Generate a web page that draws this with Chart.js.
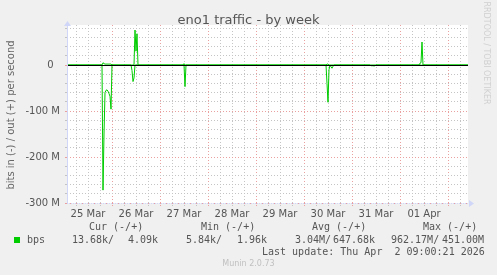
<!DOCTYPE html>
<html>
<head>
<meta charset="utf-8">
<script src="https://cdn.jsdelivr.net/npm/chart.js@4"></script>
<style>
  body { margin: 0; background: #f0f0f0; }
  #wrap { position: relative; width: 497px; height: 275px; overflow: hidden; font-family: "DejaVu Sans"; color: #666; }
  canvas { position: absolute; left: 0; top: 0; }
  .t { position: absolute; white-space: pre; }
  .mono { font: 10px/12px "DejaVu Sans Mono"; color: #555; }
</style>
</head>
<body>
<div id="wrap">
  <canvas id="chart" width="497" height="275"></canvas>
  <div class="t" style="left:0;width:497px;text-align:center;top:12px;font-size:13px;line-height:16px;color:#555">eno1 traffic - by week</div>

  <div class="t mono" style="left:89px;top:221px">Cur (-/+)</div>
  <div class="t mono" style="left:201px;top:221px">Min (-/+)</div>
  <div class="t mono" style="left:312px;top:221px">Avg (-/+)</div>
  <div class="t mono" style="left:423px;top:221px">Max (-/+)</div>

  <div style="position:absolute;left:14px;top:237px;width:6px;height:6px;background:#00cc00"></div>
  <div class="t mono" style="left:27px;top:234px">bps</div>
  <div class="t mono" style="left:72px;top:234px">13.68k/</div>
  <div class="t mono" style="left:128px;top:234px">4.09k</div>
  <div class="t mono" style="left:186px;top:234px">5.84k/</div>
  <div class="t mono" style="left:237px;top:234px">1.96k</div>
  <div class="t mono" style="left:295px;top:234px">3.04M/</div>
  <div class="t mono" style="left:333px;top:234px">647.68k</div>
  <div class="t mono" style="left:391px;top:234px">962.17M/</div>
  <div class="t mono" style="left:442px;top:234px">451.00M</div>

  <div class="t mono" style="left:262px;top:246px">Last update: Thu Apr  2 09:00:21 2026</div>
  <div class="t" style="left:0;width:497px;text-align:center;top:259px;font-size:8px;line-height:10px;color:#c0c0c0">Munin 2.0.73</div>
</div>
<script>
// hours counted from 25 Mar 00:00, values in Mbit/s (in is drawn below zero)
const dayLabels = ['25 Mar', '26 Mar', '27 Mar', '28 Mar', '29 Mar', '30 Mar', '31 Mar', '01 Apr'];
const yTickValues = [0, -100, -200, -300];
const yTickLabels = ['0\u2007', '-100 M', '-200 M', '-300 M'];

const inHours = [1.5, 19, 19.5, 20, 20.5, 21, 21.5, 22, 22.5, 23, 23.5, 24,
  33.5, 34, 34.5, 35, 35.5,
  60, 60.5, 61,
  131, 131.5, 132, 132.5, 133, 133.5, 134, 134.5, 135,
  153, 153.5, 154, 154.5, 155, 155.5, 156,
  178.5, 179, 179.5, 202];
const inMbps = [0, 0, -272, -150, -60, -55, -54, -57, -62, -68, -96, 0,
  0, -12, -36, -28, 0,
  0, -47, 0,
  0, -40, -81, -10, 0, -4, -7, -3, 0,
  0, -2, -1, -2, -1.5, -2, 0,
  0, -1, 0, 0];

const outHours = [1.5, 19, 19.5, 20, 20.5, 21, 21.5, 22, 22.5, 23, 23.5, 24,
  35, 35.5, 36, 36.5, 37,
  59.5, 60, 60.5,
  131, 131.5, 132, 132.5,
  177.5, 178, 178.5, 179, 179.5, 202];
const outMbps = [0, 0, 5, 3, 2, 2, 2, 2, 2, 2, 2, 0,
  0, 76, 30, 68, 0,
  0, 3, 0,
  0, 2, 2, 0,
  0, 4, 5, 50, 0, 0];

const GREEN = '#00cc00', GRID = '#c4c4c4', MGRID = '#eba0a0', AXIS = '#cfd6f8';

const muninDecor = {
  id: 'muninDecor',
  beforeDraw(chart) {
    const { ctx, chartArea: a } = chart;
    ctx.save();
    ctx.fillStyle = '#fff';
    ctx.fillRect(a.left, a.top, a.right - a.left, a.bottom - a.top);
    ctx.restore();
  },
  afterDatasetsDraw(chart) {
    const { ctx, chartArea: a, scales } = chart;
    const y0 = Math.round(scales.y.getPixelForValue(0)) + 0.5;
    ctx.save();
    ctx.strokeStyle = '#000'; ctx.lineWidth = 1;
    ctx.beginPath(); ctx.moveTo(a.left, y0); ctx.lineTo(a.right, y0); ctx.stroke();
    // axes with arrows
    ctx.strokeStyle = AXIS; ctx.fillStyle = AXIS;
    ctx.beginPath(); ctx.moveTo(a.left + 0.5, a.bottom); ctx.lineTo(a.left + 0.5, a.top); ctx.stroke();
    ctx.beginPath(); ctx.moveTo(a.left - 3, a.top + 1); ctx.lineTo(a.left + 4, a.top + 1); ctx.lineTo(a.left + 0.5, a.top - 4); ctx.closePath(); ctx.fill();
    ctx.setLineDash([1, 1]);
    ctx.beginPath(); ctx.moveTo(a.left, a.bottom + 0.5); ctx.lineTo(a.right + 2, a.bottom + 0.5); ctx.stroke();
    ctx.beginPath(); ctx.moveTo(a.right + 1, a.bottom - 3); ctx.lineTo(a.right + 1, a.bottom + 4); ctx.lineTo(a.right + 6, a.bottom + 0.5); ctx.closePath(); ctx.fill();
    ctx.restore();
  },
  afterDraw(chart) {
    const { ctx } = chart;
    ctx.save();
    ctx.textAlign = 'center'; ctx.textBaseline = 'middle';
    ctx.fillStyle = '#666'; ctx.font = '10px "DejaVu Sans"';
    ctx.translate(11, 115); ctx.rotate(-Math.PI / 2);
    ctx.fillText('bits in (-) / out (+) per second', 0, 0);
    ctx.restore();
    ctx.save();
    ctx.textAlign = 'center'; ctx.textBaseline = 'middle';
    ctx.fillStyle = '#d0d0d0'; ctx.font = '8px "DejaVu Sans"';
    ctx.translate(486, 53); ctx.rotate(Math.PI / 2);
    ctx.fillText('RRDTOOL / TOBI OETIKER', 0, 0);
    ctx.restore();
  }
};

const toPoints = (xs, ys) => xs.map((x, i) => ({ x, y: ys[i] }));

new Chart(document.getElementById('chart').getContext('2d'), {
  type: 'line',
  data: {
    datasets: [
      { label: 'in', data: toPoints(inHours, inMbps), borderColor: GREEN, borderWidth: 1, pointRadius: 0, tension: 0, fill: false },
      { label: 'out', data: toPoints(outHours, outMbps), borderColor: GREEN, borderWidth: 1, pointRadius: 0, tension: 0, fill: false }
    ]
  },
  options: {
    responsive: false, animation: false, events: [],
    layout: { padding: { left: 0, top: 25, right: 29, bottom: 0 } },
    plugins: { legend: { display: false }, tooltip: { enabled: false }, title: { display: false } },
    scales: {
      x: {
        type: 'linear', min: 1.5, max: 202,
        afterBuildTicks: s => { const t = []; for (let h = 6; h <= s.max; h += 6) t.push({ value: h }); s.ticks = t; },
        afterFit: s => { s.height = 72; },
        ticks: { autoSkip: false, maxRotation: 0, padding: 2, color: '#555', font: { family: 'DejaVu Sans', size: 10 },
          callback: v => (v % 24 === 12 ? dayLabels[(v - 12) / 24] : '') },
        grid: { color: c => (c.tick && c.tick.value % 24 === 0 ? MGRID : GRID), tickLength: 3, tickBorderDash: [1, 1] },
        border: { display: false, dash: [1, 2] }
      },
      y: {
        min: -300, max: 87,
        afterBuildTicks: s => { const t = []; for (let v = -300; v <= 80; v += 20) t.push({ value: v }); s.ticks = t; },
        afterFit: s => { s.width = 67; },
        ticks: { autoSkip: false, padding: 5, color: '#555', font: { family: 'DejaVu Sans', size: 10 },
          callback: v => { const i = yTickValues.indexOf(v); return i >= 0 ? yTickLabels[i] : ''; } },
        grid: { color: c => (c.tick && c.tick.value % 100 === 0 ? MGRID : GRID), tickLength: 2 },
        border: { display: false, dash: [1, 2] }
      }
    }
  },
  plugins: [muninDecor]
});
</script>
</body>
</html>
